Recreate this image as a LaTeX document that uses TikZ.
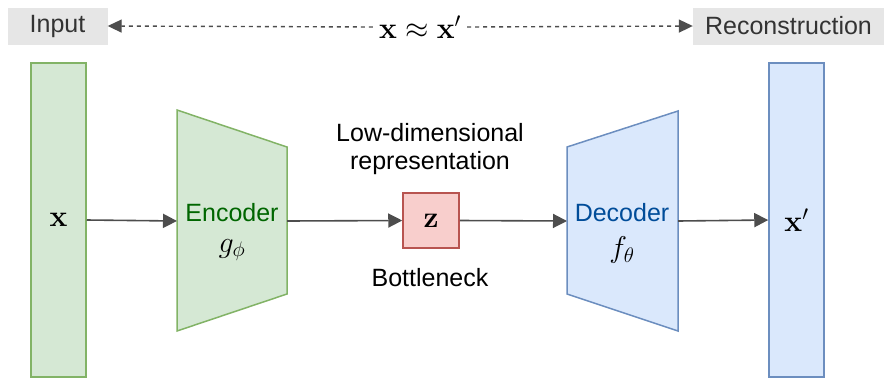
\RequirePackage{fix-cm}
\documentclass[tikz,border=0pt]{standalone}
\usepackage[no-math]{fontspec}
\setmainfont{Liberation Sans}
\usetikzlibrary{arrows.meta}

\definecolor{greenfill}{HTML}{D5E8D4}
\definecolor{greenline}{HTML}{82B366}
\definecolor{bluefill}{HTML}{DAE8FC}
\definecolor{blueline}{HTML}{6C8EBF}
\definecolor{redfill}{HTML}{F8CECC}
\definecolor{redline}{HTML}{B85450}
\definecolor{greyfill}{HTML}{E6E6E6}
\definecolor{arrowgrey}{HTML}{4D4D4D}
\definecolor{labelgrey}{HTML}{333333}
\definecolor{enctext}{HTML}{006600}
\definecolor{dectext}{HTML}{004C99}

\tikzset{
  txt/.style={font=\fontsize{25}{30}\selectfont, inner sep=0pt},
  mth/.style={font=\fontsize{30}{35}\selectfont, inner sep=0pt},
  greenbar/.style={draw=greenline, fill=greenfill, line width=1.5pt, mth},
  bluebar/.style={draw=blueline, fill=bluefill, line width=1.5pt, mth},
  zbox/.style={draw=redline, fill=redfill, line width=1.5pt, mth,
    minimum width=56pt, minimum height=55pt},
  tag/.style={fill=greyfill, txt, text=labelgrey},
  flow/.style={draw=arrowgrey, line width=1.6pt,
    -{Triangle[length=14pt, width=14pt]}},
  pairarrow/.style={draw=arrowgrey, line width=1.4pt, dash pattern=on 4pt off 4pt,
    -{Triangle[length=14pt, width=13pt]}},
}

\begin{document}
\begin{tikzpicture}[x=1pt, y=-1pt]
\useasboundingbox (0,0) rectangle (890,378);

% header: input / reconstruction tags and the approximation
\node[tag, minimum width=100pt, minimum height=37pt] (intag) at (57.5,26) {Input};
\node[tag, minimum width=191pt, minimum height=37pt] (rectag) at (788.5,26) {Reconstruction};
\node[mth, inner xsep=6pt] (approx) at (420,27) {$\mathbf{x}\approx\mathbf{x}'$};
\draw[pairarrow] (approx.west) -- (intag.east);
\draw[pairarrow] (approx.east) -- (rectag.west);

% input and output vectors
\node[greenbar, minimum width=55pt, minimum height=314pt] (xin) at (58.5,220)
  {\raisebox{-4pt}{$\mathbf{x}$}};
\node[bluebar, minimum width=55pt, minimum height=314pt] (xout) at (796.5,220)
  {\raisebox{-5pt}{$\mathbf{x}'$}};

% encoder trapezoid
\draw[draw=greenline, fill=greenfill, line width=1.5pt]
  (177,110) -- (287,147) -- (287,294) -- (177,331) -- cycle;
\coordinate (encin) at (177,221);
\coordinate (encout) at (287,221);
\node[txt, text=enctext] (enclabel) at (232,213) {Encoder};
\node[mth] (encfn) at (232,250) {$g_\phi$};

% decoder trapezoid
\draw[draw=blueline, fill=bluefill, line width=1.5pt]
  (567,147) -- (678,111) -- (678,331) -- (567,294) -- cycle;
\coordinate (decin) at (567,221);
\coordinate (decout) at (678,221);
\node[txt, text=dectext] (declabel) at (622,213) {Decoder};
\node[mth] (decfn) at (622,250) {$f_\theta$};

% bottleneck code
\node[zbox] (z) at (431,220.5) {\raisebox{-4pt}{$\mathbf{z}$}};
\node[txt, align=center, font=\fontsize{25}{28}\selectfont] (lowdim) at (430,149) {Low-dimensional\\representation};
\node[txt] (bneck) at (430,278) {Bottleneck};

% data flow
\draw[flow] (xin.east) -- (encin);
\draw[flow] (encout) -- (z.west);
\draw[flow] (z.east) -- (decin);
\draw[flow] (decout) -- (xout.west);
\end{tikzpicture}
\end{document}
